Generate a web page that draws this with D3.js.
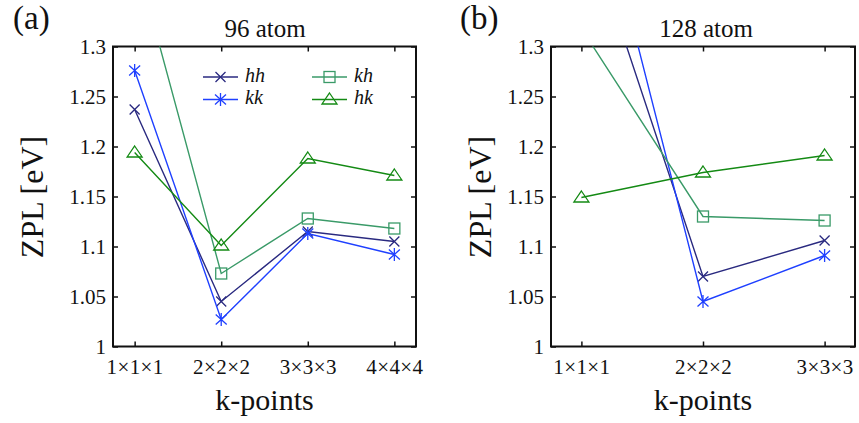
<!DOCTYPE html>
<html>
<head>
<meta charset="utf-8">
<script src="https://cdn.jsdelivr.net/npm/d3@7"></script>
<style>
body{margin:0;background:#fff;}
</style>
</head>
<body>
<svg id="chart" width="859" height="423"></svg>
<script>
// data
var kpoints_a = ["1×1×1","2×2×2","3×3×3","4×4×4"];
var kpoints_b = ["1×1×1","2×2×2","3×3×3"];
var yTicks = [1, 1.05, 1.1, 1.15, 1.2, 1.25, 1.3];

var hh_a = [1.237, 1.045, 1.115, 1.105];
var kk_a = [1.276, 1.027, 1.113, 1.092];
var kh_a = [1.393, 1.073, 1.128, 1.118];
var hk_a = [1.194, 1.101, 1.188, 1.171];

var hh_b = [1.436, 1.070, 1.106];
var kk_b = [1.523, 1.045, 1.091];
var kh_b = [1.318, 1.130, 1.126];
var hk_b = [1.149, 1.174, 1.191];

var colors = {hh:"#2a2a80", kk:"#1f40ff", kh:"#3a9a68", hk:"#148a14"};
var FONT = "'Liberation Serif'";

var svg = d3.select("#chart");

function txt(sel, size){
    return sel.style("font-family", FONT).style("font-size", size+"px").style("fill","#111");
}

function drawPanel(opt){
    var g = svg.append("g");
    var n = opt.cats.length;
    var top = 46.5, bottom = 346.5;
    var x = d3.scaleLinear().domain([0.75, n+0.25]).range([opt.left, opt.right]);
    var y = d3.scaleLinear().domain([1, 1.3]).range([bottom, top]);

    var clipId = "clip"+opt.tag;
    svg.append("clipPath").attr("id", clipId)
        .append("rect")
        .attr("x", opt.left).attr("y", top)
        .attr("width", opt.right-opt.left).attr("height", bottom-top);

    var idx = d3.range(1, n+1);

    // axes, ticks pointing inward
    g.append("g").attr("transform","translate(0,"+bottom+")")
        .call(d3.axisBottom(x).tickValues(idx).tickSize(-5).tickFormat(function(d){return opt.cats[d-1];}))
        .call(function(a){a.select(".domain").remove();
            txt(a.selectAll("text"),21).attr("y",27).attr("dy",null)
                .style("letter-spacing","0.4px");});
    g.append("g").attr("transform","translate(0,"+top+")")
        .call(d3.axisTop(x).tickValues(idx).tickSize(-5).tickFormat(""))
        .call(function(a){a.select(".domain").remove();});
    g.append("g").attr("transform","translate("+opt.left+",0)")
        .call(d3.axisLeft(y).tickValues(yTicks).tickSize(-5).tickPadding(7).tickFormat(d3.format("")))
        .call(function(a){a.select(".domain").remove();
            txt(a.selectAll("text"),21).attr("dy","0.34em");});
    g.append("g").attr("transform","translate("+opt.right+",0)")
        .call(d3.axisRight(y).tickValues(yTicks).tickSize(-5).tickFormat(""))
        .call(function(a){a.select(".domain").remove();});
    g.selectAll(".tick line").attr("stroke","#111").attr("stroke-width",1.5);

    g.append("rect")
        .attr("x", opt.left).attr("y", top)
        .attr("width", opt.right-opt.left).attr("height", bottom-top)
        .attr("fill","none").attr("stroke","#111").attr("stroke-width",2);

    var line = d3.line().x(function(d,i){return x(i+1);}).y(function(d){return y(d);});
    var plot = g.append("g").attr("clip-path","url(#"+clipId+")");

    opt.series.forEach(function(s){
        plot.append("path").datum(s.values)
            .attr("d", line).attr("fill","none")
            .attr("stroke", colors[s.name]).attr("stroke-width",1.4);
        s.values.forEach(function(v,i){
            marker(plot, s.name, x(i+1), y(v));
        });
    });

    txt(g.append("text").attr("x",opt.titleX).attr("y",37)
        .attr("text-anchor","middle").text(opt.title), 25);
    txt(g.append("text").attr("x",opt.labelX).attr("y",29).text(opt.label), 33);
    txt(g.append("text").attr("x",(opt.left+opt.right)/2).attr("y",410)
        .attr("text-anchor","middle").text("k-points"), 30);
    txt(g.append("text")
        .attr("transform","translate("+opt.yLabelX+",197) rotate(-90)")
        .attr("text-anchor","middle").text("ZPL [eV]"), 32);
    return g;
}

function marker(sel, name, cx, cy){
    var c = colors[name];
    if(name=="hh"){
        sel.append("path").attr("d","M"+(cx-5)+","+(cy-5)+"L"+(cx+5)+","+(cy+5)+"M"+(cx-5)+","+(cy+5)+"L"+(cx+5)+","+(cy-5))
            .attr("stroke",c).attr("stroke-width",1.3);
    } else if(name=="kk"){
        sel.append("path").attr("d","M"+(cx-5.5)+","+(cy-5)+"L"+(cx+5.5)+","+(cy+5)+"M"+(cx-5.5)+","+(cy+5)+"L"+(cx+5.5)+","+(cy-5)+"M"+cx+","+(cy-6.5)+"L"+cx+","+(cy+6.5))
            .attr("stroke",c).attr("stroke-width",1.3);
    } else if(name=="kh"){
        sel.append("rect").attr("x",cx-5.5).attr("y",cy-5.5).attr("width",11).attr("height",11)
            .attr("fill","none").attr("stroke",c).attr("stroke-width",1.3);
    } else {
        sel.append("path").attr("d","M"+cx+","+(cy-6.5)+"L"+(cx+7.5)+","+(cy+4.5)+"L"+(cx-7.5)+","+(cy+4.5)+"Z")
            .attr("fill","none").attr("stroke",c).attr("stroke-width",1.3);
    }
}

drawPanel({tag:"a", left:113, right:416, cats:kpoints_a, title:"96 atom", label:"(a)",
    titleX:265, labelX:13, yLabelX:43,
    series:[{name:"hh",values:hh_a},{name:"kk",values:kk_a},{name:"kh",values:kh_a},{name:"hk",values:hk_a}]});
drawPanel({tag:"b", left:551, right:855, cats:kpoints_b, title:"128 atom", label:"(b)",
    titleX:706, labelX:460, yLabelX:491,
    series:[{name:"hh",values:hh_b},{name:"kk",values:kk_b},{name:"kh",values:kh_b},{name:"hk",values:hk_b}]});

// legend in panel (a)
var legendItems = [
    {name:"hh", lx:203, ly:77},
    {name:"kk", lx:203, ly:99.5},
    {name:"kh", lx:312, ly:77},
    {name:"hk", lx:312, ly:99.5}
];
var leg = svg.append("g");
legendItems.forEach(function(d){
    leg.append("line").attr("x1",d.lx).attr("x2",d.lx+35).attr("y1",d.ly).attr("y2",d.ly)
        .attr("stroke",colors[d.name]).attr("stroke-width",1.4);
    marker(leg, d.name, d.lx+17.5, d.ly);
    txt(leg.append("text").attr("x",d.lx+42).attr("y",d.ly+4.5)
        .style("font-style","italic").text(d.name), 20);
});
</script>
</body>
</html>
